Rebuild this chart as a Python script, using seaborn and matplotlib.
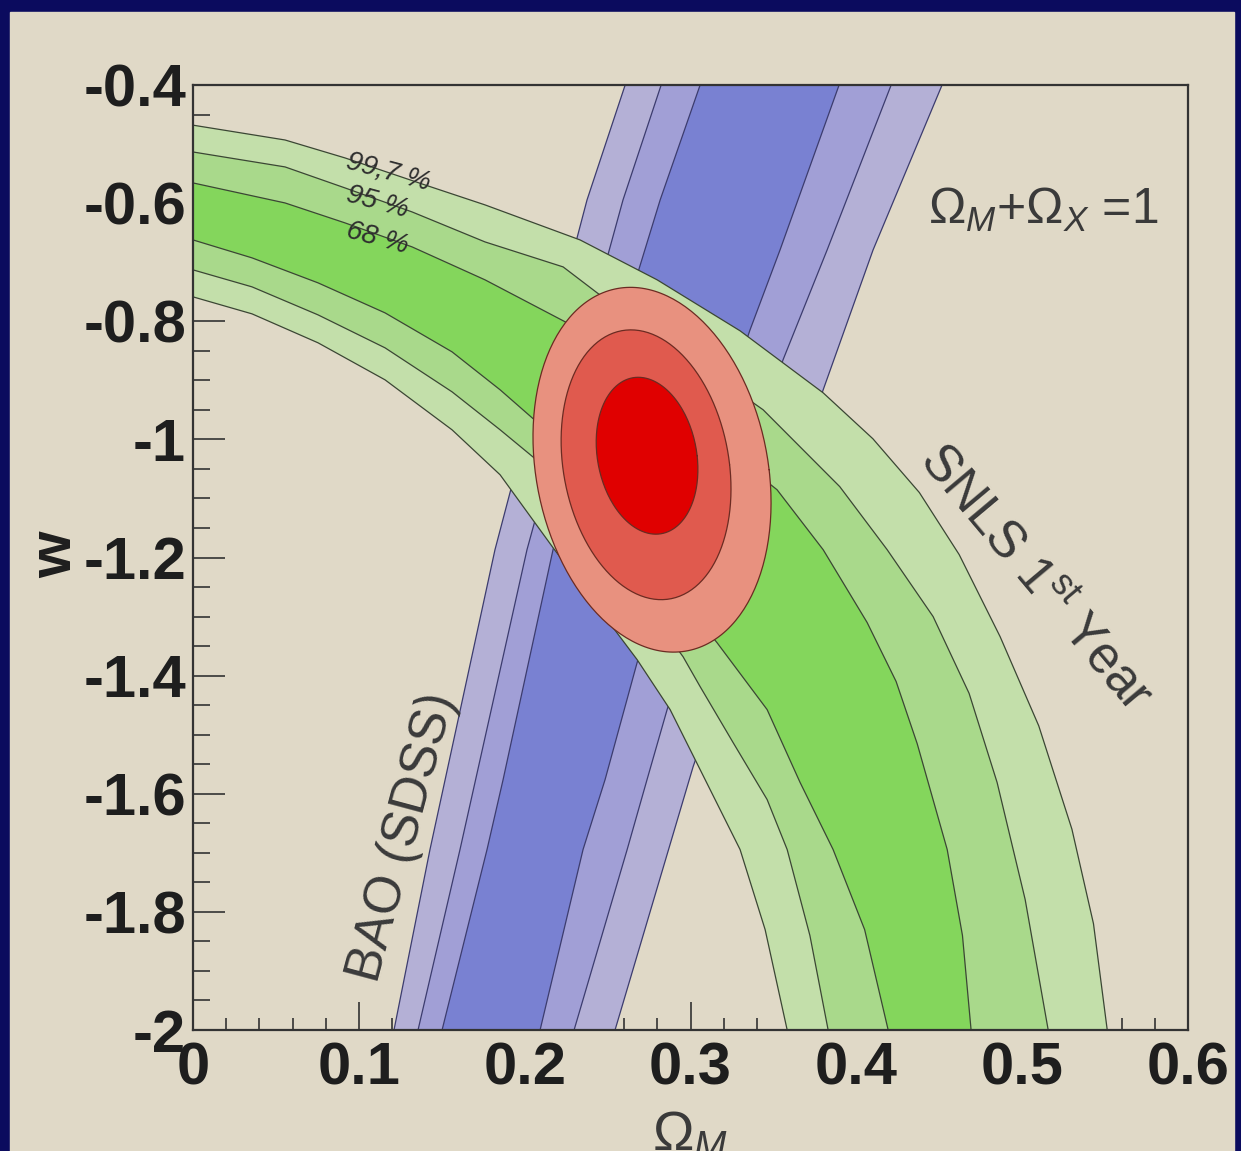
import numpy as np
import matplotlib
matplotlib.use("Agg")
import matplotlib.pyplot as plt
from matplotlib.patches import Rectangle
import seaborn as sns

# ---- BAO (SDSS) band edges (Omega_M, w), left outer -> right outer ----
bao_l3_x = [0.2606, 0.2376, 0.1821, 0.1429, 0.1212]
bao_l3_w = [-0.40, -0.5946, -1.1868, -1.6945, -2.00]
bao_l2_x = [0.2823, 0.2593, 0.2014, 0.1610, 0.1357]
bao_l2_w = [-0.40, -0.5946, -1.1868, -1.6945, -2.00]
bao_l1_x = [0.3058, 0.2817, 0.2171, 0.1870, 0.1773, 0.1502]
bao_l1_w = [-0.40, -0.5946, -1.1868, -1.5760, -1.6945, -2.00]
bao_r1_x = [0.3896, 0.3540, 0.3359, 0.2678, 0.2485, 0.2352, 0.2093]
bao_r1_w = [-0.40, -0.6792, -0.8146, -1.3780, -1.5760, -1.6945, -2.00]
bao_r2_x = [0.4210, 0.3824, 0.3558, 0.2859, 0.2738, 0.2618, 0.2298]
bao_r2_w = [-0.40, -0.6792, -0.8653, -1.4575, -1.5760, -1.6945, -2.00]
bao_r3_x = [0.4517, 0.4101, 0.3800, 0.3016, 0.2545]
bao_r3_w = [-0.40, -0.6792, -0.9161, -1.5540, -2.00]

# ---- SNLS 1st year contours (from the left edge to the bottom edge) ----
sn99u_x = [0, 0.0555, 0.0917, 0.1399, 0.1761, 0.2334, 0.2799, 0.3299, 0.3800, 0.4100, 0.4380, 0.4620, 0.4867, 0.5100, 0.5300, 0.5430, 0.5513]
sn99u_w = [-0.468, -0.4931, -0.5235, -0.5692, -0.6030, -0.6623, -0.7299, -0.8162, -0.9212, -0.9990, -1.0900, -1.1950, -1.3340, -1.4850, -1.6600, -1.8200, -2.0]
sn95u_x = [0, 0.0555, 0.0917, 0.1321, 0.1761, 0.2232, 0.2437, 0.3438, 0.3900, 0.4186, 0.4463, 0.4680, 0.4849, 0.5018, 0.5157]
sn95u_w = [-0.5134, -0.5387, -0.5743, -0.6149, -0.6657, -0.7080, -0.7519, -0.9499, -1.0800, -1.1868, -1.3000, -1.4300, -1.5810, -1.779, -2.0]
sn68u_x = [0, 0.0555, 0.0917, 0.1321, 0.1761, 0.2256, 0.3522, 0.3800, 0.4065, 0.4240, 0.4367, 0.4548, 0.4640, 0.4692]
sn68u_w = [-0.5658, -0.5997, -0.6335, -0.6741, -0.7299, -0.8027, -1.0853, -1.1868, -1.3100, -1.4100, -1.5152, -1.6945, -1.8400, -2.0]
sn68l_x = [0, 0.0356, 0.0754, 0.1158, 0.1562, 0.1852, 0.2093, 0.3160, 0.3462, 0.3661, 0.3860, 0.4050, 0.4192]
sn68l_w = [-0.6623, -0.6927, -0.7350, -0.7858, -0.8518, -0.9161, -0.9753, -1.3442, -1.4575, -1.5810, -1.6945, -1.8300, -2.0]
sn95l_x = [0, 0.0356, 0.0754, 0.1158, 0.1562, 0.1852, 0.2093, 0.2955, 0.3058, 0.3257, 0.3462, 0.3583, 0.3720, 0.3830]
sn95l_w = [-0.7130, -0.7418, -0.7892, -0.8450, -0.9195, -0.9838, -1.0397, -1.3679, -1.4186, -1.5134, -1.6098, -1.6945, -1.8400, -2.0]
sn99l_x = [0, 0.0356, 0.0754, 0.1158, 0.1562, 0.1852, 0.2171, 0.2678, 0.2877, 0.3058, 0.3299, 0.3450, 0.3583]
sn99l_w = [-0.7587, -0.7875, -0.8365, -0.8992, -0.9838, -1.0600, -1.1834, -1.3729, -1.4575, -1.5591, -1.6945, -1.8300, -2.0]

# ---- combined ellipses: 99.7 %, 95 %, 68 % (center, half widths, lean) ----
ell_cx = [0.2768, 0.2732, 0.2738]
ell_cw = [-1.0514, -1.0430, -1.0277]
ell_ax = [0.0706, 0.0504, 0.0302]
ell_aw = [0.3088, 0.2284, 0.1328]
ell_lean = [-0.042, -0.040, -0.040]

xtick_vals = [0, 0.1, 0.2, 0.3, 0.4, 0.5, 0.6]
xtick_labels = ["0", "0.1", "0.2", "0.3", "0.4", "0.5", "0.6"]
ytick_vals = [-0.4, -0.6, -0.8, -1.0, -1.2, -1.4, -1.6, -1.8, -2.0]
ytick_labels = ["-0.4", "-0.6", "-0.8", "-1", "-1.2", "-1.4", "-1.6", "-1.8", "-2"]

bg = "#e0d9c7"
navy = "#0b0b5e"
blues = ["#b4b0d6", "#a19fd6", "#7981d2"]
greens = ["#c3dfaa", "#a9d98b", "#84d65c"]
reds = ["#e8917f", "#e05a4e", "#e00000"]

sns.set_theme(style="ticks")
plt.rcParams["font.family"] = ["Liberation Sans", "DejaVu Sans"]
plt.rcParams["mathtext.fontset"] = "custom"
plt.rcParams["mathtext.rm"] = "Liberation Sans"
plt.rcParams["mathtext.it"] = "Liberation Sans:italic"
plt.rcParams["mathtext.bf"] = "Liberation Sans:bold"

W, H = 1241, 1151
fig = plt.figure(figsize=(W / 100, H / 100), dpi=100, facecolor=navy)
fig.patches.append(Rectangle((10 / W, 0), (1234 - 10) / W, (H - 12) / H,
                             transform=fig.transFigure, color=bg, zorder=-10))
ax = fig.add_axes([193 / W, (H - 1030) / H, 995 / W, 945 / H])
ax.set_facecolor(bg)


def band(x1, w1, x2, w2, color, z):
    ax.fill(np.r_[x1, x2[::-1]], np.r_[w1, w2[::-1]], color=color, lw=0, zorder=z)


def edge(x, w, color, z):
    sns.lineplot(x=x, y=w, sort=False, estimator=None, color=color, lw=0.9,
                 ax=ax, legend=False, zorder=z)


# BAO bands
band(bao_l3_x, bao_l3_w, bao_r3_x, bao_r3_w, blues[0], 1)
band(bao_l2_x, bao_l2_w, bao_r2_x, bao_r2_w, blues[1], 1.1)
band(bao_l1_x, bao_l1_w, bao_r1_x, bao_r1_w, blues[2], 1.2)
for xs, ws in [(bao_l3_x, bao_l3_w), (bao_l2_x, bao_l2_w), (bao_l1_x, bao_l1_w),
               (bao_r1_x, bao_r1_w), (bao_r2_x, bao_r2_w), (bao_r3_x, bao_r3_w)]:
    edge(xs, ws, "#3c3c6e", 1.5)

# SNLS bands
band(sn99u_x, sn99u_w, sn99l_x, sn99l_w, greens[0], 2)
band(sn95u_x, sn95u_w, sn95l_x, sn95l_w, greens[1], 2.1)
band(sn68u_x, sn68u_w, sn68l_x, sn68l_w, greens[2], 2.2)
for xs, ws in [(sn99u_x, sn99u_w), (sn95u_x, sn95u_w), (sn68u_x, sn68u_w),
               (sn68l_x, sn68l_w), (sn95l_x, sn95l_w), (sn99l_x, sn99l_w)]:
    edge(xs, ws, "#3b4634", 2.5)

# combined ellipses
t = np.linspace(0, 2 * np.pi, 240)
for i in range(3):
    ex = ell_cx[i] + ell_ax[i] * np.cos(t) + ell_lean[i] * ell_aw[i] * np.sin(t)
    ew = ell_cw[i] + ell_aw[i] * np.sin(t)
    ax.fill(ex, ew, color=reds[i], lw=0, zorder=3 + i * 0.1)
    edge(ex, ew, "#6b2b22", 3.5)

ax.set_xlim(0, 0.6)
ax.set_ylim(-2.0, -0.4)
ax.set_xticks(xtick_vals, xtick_labels)
ax.set_yticks(ytick_vals, ytick_labels)
ax.set_xticks(np.arange(0, 0.6001, 0.02), minor=True)
ax.set_yticks(np.arange(-2.0, -0.3999, 0.05), minor=True)
ax.tick_params(axis="both", which="both", direction="in", colors="#333333",
               labelcolor="#1e1e1e", width=1.2)
ax.tick_params(axis="x", which="major", length=20, pad=8, labelsize=43)
ax.tick_params(axis="x", which="minor", length=9)
ax.tick_params(axis="y", which="major", length=23, pad=5, labelsize=43)
ax.tick_params(axis="y", which="minor", length=12)
for lab in ax.get_xticklabels() + ax.get_yticklabels():
    lab.set_fontweight("bold")
for sp in ax.spines.values():
    sp.set_color("#333333")
    sp.set_linewidth(1.6)
    sp.set_zorder(5)

ax.set_xlabel(r"$\Omega_{M}$", fontsize=40, color="#3a3a3a")
ax.xaxis.set_label_coords(0.4995, -0.085)
ax.set_ylabel("w", fontsize=43, fontweight="bold", color="#1e1e1e")
ax.yaxis.set_label_coords(-0.11, 0.503)

txt = "#3a3a3a"
ax.text(0.4433, -0.6115, r"$\Omega_{M}$+$\Omega_{X}$ =$\mathit{1}$", fontsize=36,
        color=txt, ha="left", va="center", zorder=6)
ax.text(0.5078, -1.2342, r"SNLS 1$^{\mathrm{st}}$ Year", fontsize=37, color=txt,
        rotation=-50, rotation_mode="anchor", ha="center", va="center", zorder=6)
ax.text(0.1267, -1.674, "BAO (SDSS)", fontsize=37, color=txt, rotation=75,
        rotation_mode="anchor", ha="center", va="center", zorder=6)
for lx, lw_, s in [(0.1176, -0.5472, "99,7 %"), (0.111, -0.598, "95 %"), (0.111, -0.6589, "68 %")]:
    ax.text(lx, lw_, s, fontsize=20, style="italic", color="#2e2e2e", rotation=-15,
            rotation_mode="anchor", ha="center", va="center", zorder=6)

fig.savefig("out.png", dpi=100, facecolor=navy)
